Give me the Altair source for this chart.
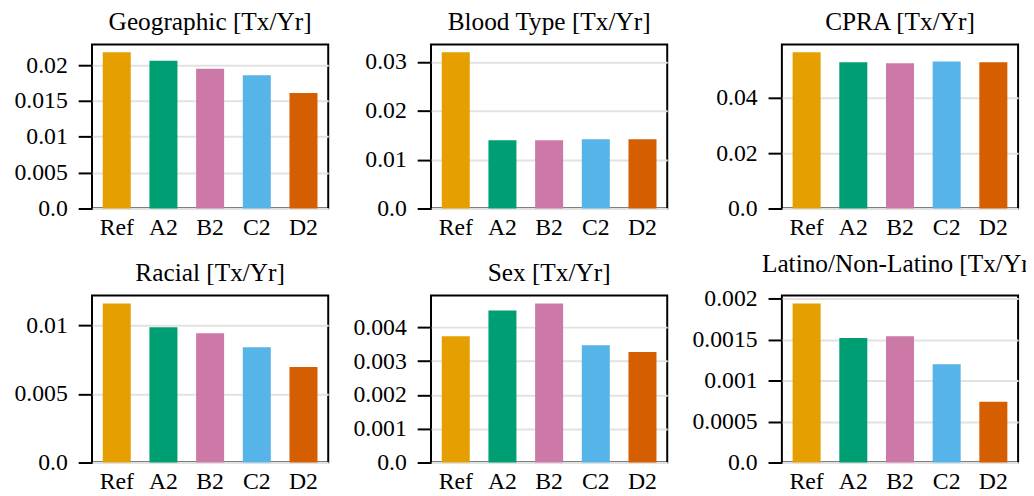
import altair as alt
import pandas as pd

categories = ["Ref", "A2", "B2", "C2", "D2"]
colors = ["#E69F00", "#009E73", "#CC79A7", "#56B4E9", "#D55E00"]

panel_titles = [
    "Geographic [Tx/Yr]",
    "Blood Type [Tx/Yr]",
    "CPRA [Tx/Yr]",
    "Racial [Tx/Yr]",
    "Sex [Tx/Yr]",
    "Latino/Non-Latino [Tx/Yr]",
]

geographic = [0.0218, 0.0206, 0.0195, 0.0186, 0.0161]
blood_type = [0.0320, 0.0140, 0.0140, 0.0142, 0.0142]
cpra = [0.0565, 0.0529, 0.0525, 0.0532, 0.0529]
racial = [0.0116, 0.00986, 0.00942, 0.00841, 0.00696]
sex = [0.00374, 0.00450, 0.00471, 0.00347, 0.00327]
latino = [0.00194, 0.00152, 0.00154, 0.00120, 0.00074]

geographic_ticks = [0.0, 0.005, 0.01, 0.015, 0.02]
blood_type_ticks = [0.0, 0.01, 0.02, 0.03]
cpra_ticks = [0.0, 0.02, 0.04]
racial_ticks = [0.0, 0.005, 0.01]
sex_ticks = [0.0, 0.001, 0.002, 0.003, 0.004]
latino_ticks = [0.0, 0.0005, 0.001, 0.0015, 0.002]

series = [geographic, blood_type, cpra, racial, sex, latino]
tick_sets = [geographic_ticks, blood_type_ticks, cpra_ticks,
             racial_ticks, sex_ticks, latino_ticks]
heights = [166, 166, 166, 169, 169, 169]

FONT = "Liberation Serif"


def panel(title, vals, tickvals, height):
    df = pd.DataFrame({"cat": categories, "val": vals})
    ymax = max(vals) * 1.05
    return alt.Chart(df, title=title).mark_bar().encode(
        x=alt.X(
            "cat:N",
            sort=categories,
            scale=alt.Scale(paddingInner=0.4, paddingOuter=0.23),
            axis=alt.Axis(title=None, labelAngle=0, ticks=False, domain=False,
                          labelPadding=7, grid=False),
        ),
        y=alt.Y(
            "val:Q",
            scale=alt.Scale(domain=[0, ymax], nice=False, zero=True),
            axis=alt.Axis(
                title=None,
                values=tickvals,
                labelExpr="datum.value == 0 ? '0.0' : format(datum.value, '~g')",
                tickSize=14,
                tickWidth=2,
                labelPadding=11,
                domain=False,
                grid=True,
                gridColor="#e2e2e2",
                gridWidth=2,
            ),
        ),
        color=alt.Color("cat:N", sort=categories,
                        scale=alt.Scale(domain=categories, range=colors),
                        legend=None),
    ).properties(width=239, height=height)


panels = [panel(t, v, tk, h) for t, v, tk, h in zip(panel_titles, series, tick_sets, heights)]

chart = alt.concat(
    *panels, columns=3, spacing={"row": 11, "column": 23}
).configure_view(
    stroke="black", strokeWidth=2
).configure_title(
    font=FONT, fontSize=25.6, fontWeight="normal", color="black",
    baseline="alphabetic", offset=9, anchor="middle",
).configure_axis(
    labelFont=FONT, labelFontSize=24, labelColor="black", tickColor="black",
).properties(
    padding={"left": 5, "top": -2, "right": -14, "bottom": 0}
)

chart.save("out.html", embed_options={"renderer": "svg", "actions": False})
